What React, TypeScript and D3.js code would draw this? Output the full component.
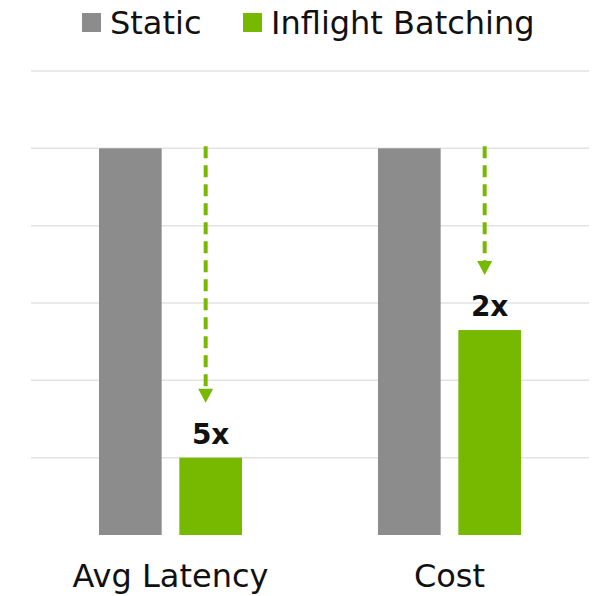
import React from "react";
import * as d3 from "d3";

const categories = ["Avg Latency", "Cost"];
const seriesNames = ["Static", "Inflight Batching"];
const staticValues = [100, 100];
const inflightValues = [20, 53];
const speedupLabels = ["5x", "2x"];
const gridTicks = [20, 40, 60, 80, 100, 120];

const W = 603;
const H = 596;
const GREY = "#8c8c8c";
const GREEN = "#76b900";
const FONT = "'DejaVu Sans', 'Noto Sans', sans-serif";

export default function App() {
  const x = d3.scaleBand<string>().domain(categories).range([31, 589]);
  const inner = d3
    .scaleBand<string>()
    .domain(["static", "inflight"])
    .range([68, 211])
    .paddingInner(0.22);
  const y = d3.scaleLinear().domain([0, 120]).range([535, 71]);
  const colors = [GREY, GREEN];

  return (
    <svg
      width={W}
      height={H}
      style={{ position: "absolute", left: 0, top: 0, background: "#fff" }}
      fontFamily={FONT}
    >
      {/* legend */}
      {seriesNames.map((name, i) => {
        const lx = i === 0 ? 82 : 243;
        return (
          <g key={name}>
            <rect x={lx} y={13} width={19} height={19} fill={colors[i]} />
            <text x={lx + 28} y={34} fontSize={32} fill="#111">
              {name}
            </text>
          </g>
        );
      })}
      {/* gridlines */}
      {gridTicks.map((t) => (
        <line key={t} x1={31} x2={589} y1={y(t)} y2={y(t)} stroke="#e3e3e3" strokeWidth={1.5} />
      ))}
      {categories.map((c, i) => {
        const bx = x(c)!;
        const sx = bx + inner("static")!;
        const gx = bx + inner("inflight")!;
        const bw = inner.bandwidth();
        const ax = gx + bw / 2 - 5;
        const topY = y(staticValues[i]);
        const tipY = y(inflightValues[i]) - 55;
        return (
          <g key={c}>
            <rect x={sx} y={y(staticValues[i])} width={bw} height={y(0) - y(staticValues[i])} fill={GREY} />
            <rect x={gx} y={y(inflightValues[i])} width={bw} height={y(0) - y(inflightValues[i])} fill={GREEN} />
            <line
              x1={ax}
              x2={ax}
              y1={topY - 2}
              y2={tipY - 12}
              stroke={GREEN}
              strokeWidth={4}
              strokeDasharray="12 7"
            />
            <path
              d={`M${ax - 7.5},${tipY - 14} L${ax + 7.5},${tipY - 14} L${ax},${tipY} Z`}
              fill={GREEN}
            />
            <text
              x={gx + bw / 2}
              y={y(inflightValues[i]) - 14}
              textAnchor="middle"
              fontSize={28}
              fontWeight="bold"
              fill="#111"
            >
              {speedupLabels[i]}
            </text>
            <text x={bx + x.bandwidth() / 2} y={587} textAnchor="middle" fontSize={32} fill="#111">
              {c}
            </text>
          </g>
        );
      })}
    </svg>
  );
}
